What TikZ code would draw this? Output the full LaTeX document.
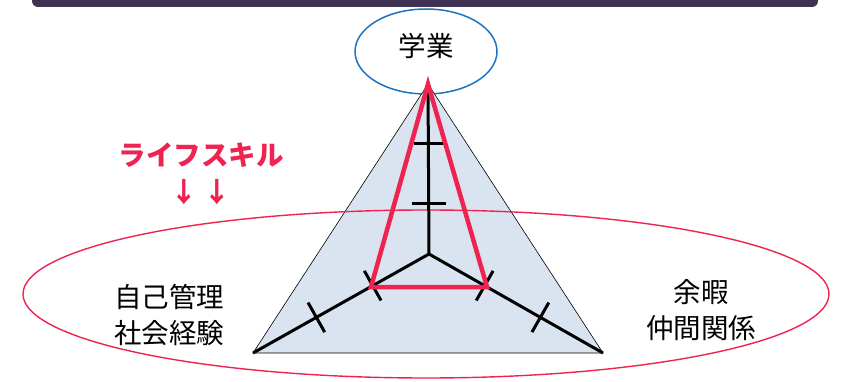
\documentclass[tikz,border=0pt]{standalone}
\usepackage{fontspec}
\newfontfamily\jp{Noto Sans CJK JP}
\usetikzlibrary{shapes.geometric,calc}
\definecolor{barc}{HTML}{3F3151}
\definecolor{skyb}{HTML}{1A74C4}
\definecolor{redc}{HTML}{EE2350}
\definecolor{fillb}{HTML}{DAE3F0}
\tikzset{
  axisline/.style={line width=3pt, black},
  ticklen/.style={line width=3pt, black},
  redtri/.style={line width=4.5pt, redc},
  lbl/.style={font=\jp\fontsize{27.5}{36}\selectfont, align=center, inner sep=0pt},
}
\begin{document}
\begin{tikzpicture}[x=1pt,y=-1pt]
\useasboundingbox (0,0) rectangle (848,382);
% top bar
\fill[barc, rounded corners=6pt] (32,-20) rectangle (818,7);
% apex ellipse
\node[ellipse, draw=skyb, line width=1.5pt, minimum width=142pt, minimum height=85pt, inner sep=0pt, font=\jp\fontsize{27.5}{36}\selectfont] (gaku) at (426,51.5) {\raisebox{6pt}[\height][\depth]{学業}};
% triangle
\coordinate (A) at (428,84);
\coordinate (L) at (253,353);
\coordinate (R) at (603,353);
\coordinate (O) at (429,254);
\filldraw[fill=fillb, draw=black, line width=0.6pt] (A) -- (L) -- (R) -- cycle;
% big life-skill ellipse
\node[ellipse, draw=redc, line width=1.4pt, minimum width=806pt, minimum height=168pt, inner sep=0pt] (life) at (426,294) {};
% axes
\draw[axisline] (O) -- (A);
\draw[axisline] (O) -- (L);
\draw[axisline] (O) -- (R);
% ticks on vertical axis
\coordinate (v1) at (429,203);
\coordinate (v2) at (429,144);
\draw[ticklen] ($(v1)+(-17,0)$) -- ($(v1)+(17,0)$);
\draw[ticklen] ($(v2)+(-15,0)$) -- ($(v2)+(15,0)$);
% ticks on left/right axes
\foreach \f/\n in {0.32/a,0.64/b}{
  \coordinate (l\n) at ($(O)!\f!(L)$);
  \draw[ticklen] ($(l\n)!17pt!90:(L)$) -- ($(l\n)!17pt!-90:(L)$);
  \coordinate (r\n) at ($(O)!\f!(R)$);
  \draw[ticklen] ($(r\n)!17pt!90:(R)$) -- ($(r\n)!17pt!-90:(R)$);
}
% red triangle
\coordinate (P) at (371,287);
\coordinate (Q) at (487,287);
\draw[redtri] (A) -- (P) -- (Q) -- cycle;
% labels
\node[lbl] (jiko) at (169,315) {自己管理\\社会経験};
\node[lbl] (yoka) at (701,310) {余暇\\仲間関係};
\node[lbl, text=redc, font=\jp\bfseries\fontsize{27.5}{36}\selectfont] (skill) at (201,155) {ライフスキル};
\node[lbl, text=redc, font=\jp\bfseries\fontsize{27.5}{36}\selectfont] (arrows) at (201,192) {↓\hspace{6pt}↓};
\end{tikzpicture}
\end{document}
